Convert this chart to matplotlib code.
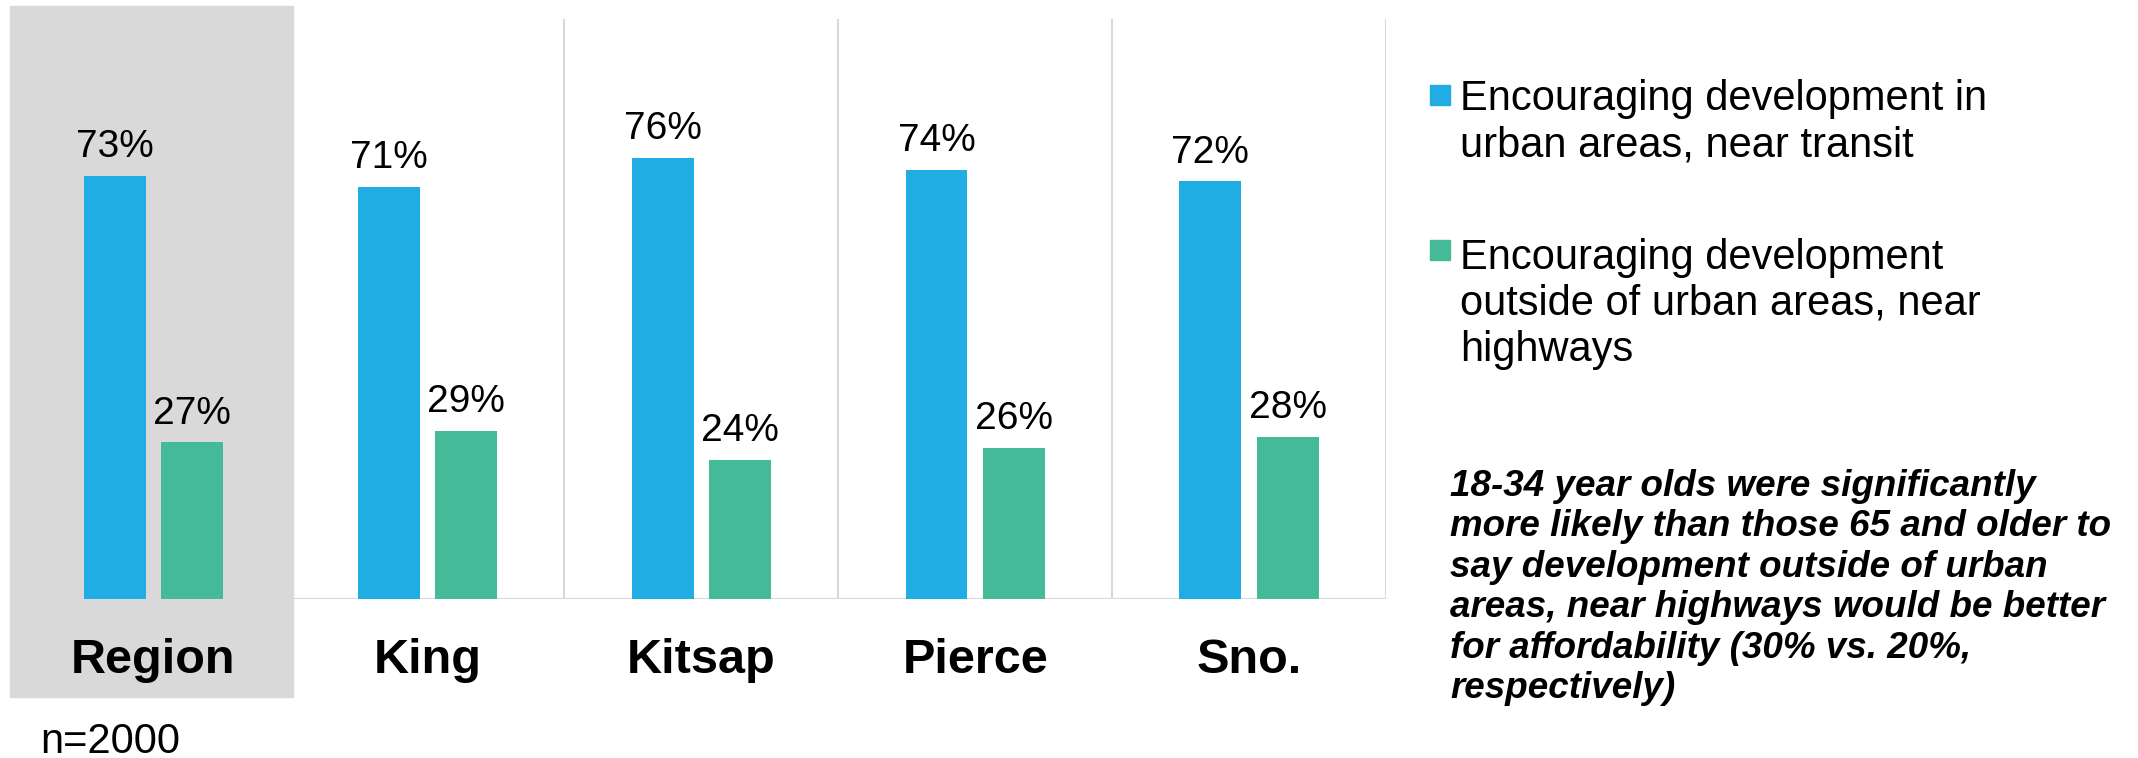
import numpy as np
import matplotlib
matplotlib.use("Agg")
import matplotlib.pyplot as plt
from matplotlib.patches import Rectangle

plt.rcParams['font.family'] = ['Liberation Sans', 'DejaVu Sans']

# data
groups = ['Region', 'King', 'Kitsap', 'Pierce', 'Sno.']
urban = [73, 71, 76, 74, 72]
outside = [27, 29, 24, 26, 28]
series_names = ['Encouraging development in\nurban areas, near transit',
                'Encouraging development\noutside of urban areas, near\nhighways']
note = ('18-34 year olds were significantly\n'
        'more likely than those 65 and older to\n'
        'say development outside of urban\n'
        'areas, near highways would be better\n'
        'for affordability (30% vs. 20%,\n'
        'respectively)')
sample = 'n=2000'

BLUE = '#1FADE4'
GREEN = '#44BA98'
GRAY = '#D9D9D9'

W, H = 2138, 758
fig = plt.figure(figsize=(W / 100, H / 100), dpi=100)

ax = fig.add_axes([16.5 / W, 1 - 599 / H, 1369.5 / W, 580 / H])
ax.set_facecolor('none')

# grey panel behind the Region column (label included)
ax.add_patch(Rectangle((10 / W, 1 - 697 / H), 283 / W, 691 / H,
                       transform=fig.transFigure, color=GRAY, zorder=0,
                       clip_on=False))

x = np.arange(len(groups))
bw = 0.226
off = 0.141
b1 = ax.bar(x - off, urban, bw, color=BLUE, zorder=3)
b2 = ax.bar(x + off, outside, bw, color=GREEN, zorder=3)

for bars, vals in ((b1, urban), (b2, outside)):
    for rect, v in zip(bars, vals):
        ax.annotate('%d%%' % v, (rect.get_x() + rect.get_width() / 2, rect.get_height()),
                    xytext=(0, 13.5), textcoords='offset points',
                    ha='center', va='baseline', fontsize=28, color='black')

ax.set_xlim(-0.5, len(groups) - 0.5)
ax.set_ylim(0, 100)
for b in x[1:] + 0.5:
    ax.axvline(b, color=GRAY, lw=1.5, zorder=1)
ax.axhline(0, xmin=0.2, xmax=1, color=GRAY, lw=1.5, zorder=1)

for s in ax.spines.values():
    s.set_visible(False)
ax.set_yticks([])
ax.set_xticks(x)
ax.set_xticklabels(groups, fontsize=35, fontweight='bold')
ax.tick_params(axis='x', length=0, pad=28)

# legend drawn by hand so the square sits on the first line
leg_y = [85, 240]
last_base = [156, 361]
for c, name, sy, by in zip([BLUE, GREEN], series_names, leg_y, last_base):
    fig.patches.append(Rectangle((1430 / W, 1 - (sy + 20) / H), 20 / W, 20 / H,
                                 transform=fig.transFigure, color=c))
    fig.text(1460 / W, 1 - by / H, name, fontsize=30, va='baseline', ha='left',
             linespacing=1.2)

fig.text(1450 / W, 1 - 698 / H, note, fontsize=26.5, fontweight='bold',
         fontstyle='italic', va='baseline', ha='left', linespacing=1.2)

fig.text(40 / W, 1 - 753 / H, sample, fontsize=30, va='baseline', ha='left')

fig.savefig('out.png', dpi=100)
